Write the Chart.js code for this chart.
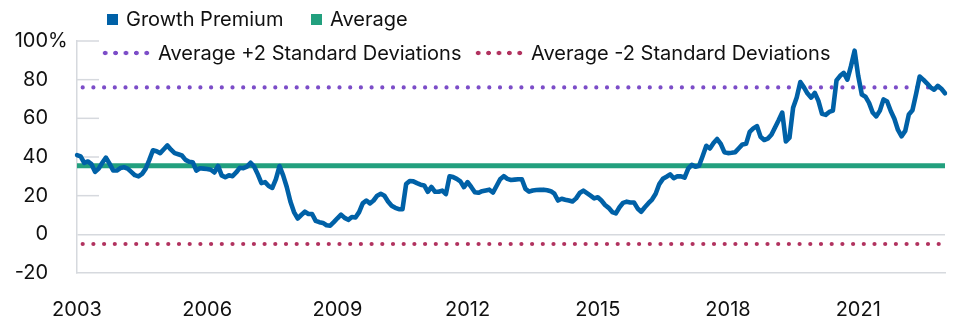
<!DOCTYPE html>
<html><head><meta charset="utf-8">
<script src="https://cdn.jsdelivr.net/npm/chart.js@4"></script>
<style>
html,body{margin:0;padding:0;background:#fff;}
#wrap{position:relative;width:960px;height:325px;font-family:Inter,sans-serif;}
canvas{position:absolute;left:0;top:0;}
.lg{position:absolute;display:flex;align-items:center;height:24px;font-size:20px;color:#111;white-space:nowrap;font-family:Inter,sans-serif;}
.sq{width:11px;height:11px;display:inline-block;margin-right:8px;}
.dots{width:52px;height:6px;display:inline-block;margin-right:6px;background-size:10.4px 6px;background-repeat:repeat-x;}
</style></head>
<body><div id="wrap"><canvas id="c" width="960" height="325"></canvas></div>
<script>
// ---- data ----
const startYear = 2003, endYear = 2023;
const months = [];
for (let y = startYear; y <= endYear; y++) {
  for (let m = 1; m <= 12; m++) {
    if (y === endYear && m > 1) break;
    months.push(y + '-' + String(m).padStart(2, '0'));
  }
}
const xTickYears = ['2003','2006','2009','2012','2015','2018','2021'];
const yTickMin = -20, yTickMax = 100, yTickStep = 20;

const growthPremium = [
41,40.3,37,37.7,36.3,32.3,34,37,39.7,36.6,33,33,
34.3,34.7,34,32.3,30.6,30,31.3,34,38.5,43.5,43,42,
44,46,43.8,42,41.4,40.8,38.5,37.5,37.3,33,34.2,34,
33.8,33.4,32,35.4,30.5,29.5,30.5,30.1,32,34.4,34.2,35,
37,35,31,26.5,27,25,24,28.5,35.3,30.5,24.5,17,
11.5,8.2,10,11.7,10.5,10.5,7,6.3,5.9,4.7,4.5,6.3,
8.3,10.2,8.5,7.5,9,8.7,11.5,16,17.5,16,17.5,20,
21,20,17,14.8,13.7,13,13,26,27.6,27.4,26.5,25.7,
25.3,22,24.5,22,22,22.6,20.8,30,29.6,28.7,27.4,24.4,
27,24.5,21.8,21.5,22.3,22.7,23.1,21.6,25,28.5,30.1,28.7,
28.1,28.3,28.5,28.5,23.5,22.1,22.7,22.9,23,23.1,22.8,22.3,
21,17.5,18.4,17.9,17.5,17,18.6,21.4,22.6,21.3,20,18.6,
19.2,17.5,15.2,13.7,11.5,10.8,14,16.3,16.9,16.5,16.5,13.4,
11.7,14,16.1,18,21,26,28.7,29.8,31,29,30,30,
29.3,34,36,35,35.5,40.5,45.8,44.4,47.2,49.3,46.8,42.5,
42,42.2,42.5,44.5,46.5,46.8,53,54.8,56,50.5,48.8,49.5,
51.5,55.3,59,63,48,50,65.5,70.8,78.8,76,72.8,70.7,
73.2,69,62.3,61.8,63.3,64,79.6,82,83.5,80,87,95,
82,72.3,71.2,68,63,61,64,69.8,68.7,63.8,59.8,54,
50.7,53.5,62,64.2,72.6,81.6,80,78.1,76,74.8,76.8,75.3,
73];
const averageValue = 35.5;
const upperValue = 76;
const lowerValue = -5;

// ---- styles ----
const BLUE = '#0061A7', GREEN = '#22A07E', PURPLE = '#7C4DC8', MAGENTA = '#B1325F';
const GRID = '#D6D9DE', TEXT = '#111111';
const FONT = {family: 'Inter', size: 20};

const first = months[0], last = months[months.length - 1];
const flat = v => [{x: first, y: v}, {x: last, y: v}];

const stubPlugin = {
  id: 'stubs',
  beforeDatasetsDraw(chart) {
    const {ctx, chartArea, scales} = chart;
    const y = scales.y;
    ctx.save();
    ctx.strokeStyle = GRID; ctx.lineWidth = 1.5;
    y.ticks.forEach(t => {
      if (t.value > 0) {
        const py = y.getPixelForValue(t.value);
        ctx.beginPath(); ctx.moveTo(chartArea.left, py); ctx.lineTo(chartArea.left + 22, py); ctx.stroke();
      }
    });
    ctx.restore();
  }
};
const percentPlugin = {
  id: 'pct',
  afterDraw(chart) {
    const {ctx, scales} = chart;
    const y = scales.y;
    ctx.save();
    ctx.font = FONT.size + 'px ' + FONT.family;
    ctx.fillStyle = TEXT; ctx.textAlign = 'left'; ctx.textBaseline = 'middle';
    ctx.fillText('%', y.right - y.options.ticks.padding, y.getPixelForValue(yTickMax));
    ctx.restore();
  }
};

const chart = new Chart(document.getElementById('c'), {
  type: 'line',
  data: {
    labels: months,
    datasets: [
      {label: 'Growth Premium', data: growthPremium, borderColor: BLUE, backgroundColor: BLUE, borderWidth: 4.6, pointRadius: 0, tension: 0, borderJoinStyle: 'round', borderCapStyle: 'round', order: 0, legendType: 'box'},
      {label: 'Average', data: flat(averageValue), borderColor: GREEN, backgroundColor: GREEN, borderWidth: 5, pointRadius: 0, order: 1, legendType: 'box'},
      {label: 'Average +2 Standard Deviations', data: flat(upperValue), borderColor: PURPLE, backgroundColor: PURPLE, borderWidth: 4.2, borderDash: [0, 10.7], borderDashOffset: 5, borderCapStyle: 'round', pointRadius: 0, order: 2, legendType: 'dots'},
      {label: 'Average -2 Standard Deviations', data: flat(lowerValue), borderColor: MAGENTA, backgroundColor: MAGENTA, borderWidth: 4.2, borderDash: [0, 10.7], borderDashOffset: 5, borderCapStyle: 'round', pointRadius: 0, order: 3, legendType: 'dots'}
    ]
  },
  options: {
    responsive: false, animation: false,
    layout: {padding: {top: 40, right: 15, left: 0, bottom: 0}},
    plugins: {legend: {display: false}, tooltip: {enabled: false}},
    scales: {
      x: {
        type: 'category',
        grid: {display: false},
        border: {display: true, color: GRID, width: 1.5},
        ticks: {
          autoSkip: false, maxRotation: 0, minRotation: 0, padding: 17, font: FONT, color: TEXT,
          callback: function (v) {
            const l = this.getLabelForValue(v);
            return (l.endsWith('-01') && xTickYears.includes(l.slice(0, 4))) ? l.slice(0, 4) : null;
          }
        },
        afterFit: s => { s.height = 52; }
      },
      y: {
        min: yTickMin, max: yTickMax,
        ticks: {stepSize: yTickStep, padding: 29, font: FONT, color: TEXT, callback: v => String(v)},
        grid: {drawTicks: false, lineWidth: 1.5, color: c => (c.tick && c.tick.value === 0) ? GRID : 'rgba(0,0,0,0)'},
        border: {display: true, color: GRID, width: 1.5},
        afterFit: s => { s.width = 77; }
      }
    }
  },
  plugins: [stubPlugin, percentPlugin]
});

// ---- HTML legend (text from the datasets) ----
const legendSlots = [
  {left: 107, top: 7}, {left: 311, top: 7},
  {left: 100, top: 41}, {left: 473, top: 41}
];
const wrap = document.getElementById('wrap');
chart.data.datasets.forEach((ds, i) => {
  const d = document.createElement('div');
  d.className = 'lg';
  d.style.left = legendSlots[i].left + 'px';
  d.style.top = legendSlots[i].top + 'px';
  const mk = document.createElement('span');
  if (ds.legendType === 'box') {
    mk.className = 'sq'; mk.style.background = ds.borderColor;
  } else {
    mk.className = 'dots';
    mk.style.backgroundImage = 'radial-gradient(circle at center, ' + ds.borderColor + ' 2px, rgba(255,255,255,0) 2.6px)';
  }
  d.appendChild(mk);
  d.appendChild(document.createTextNode(ds.label));
  wrap.appendChild(d);
});
</script>
</body></html>
